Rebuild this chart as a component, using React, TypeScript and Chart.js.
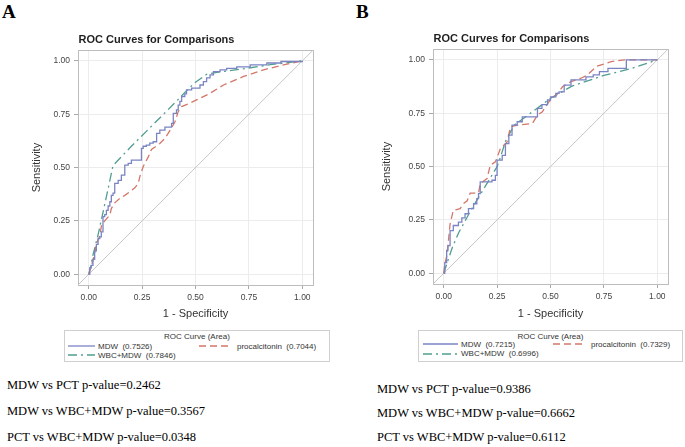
import React, { useEffect, useRef } from 'react';
import { Chart, registerables } from 'chart.js';
Chart.register(...registerables);

// ---------- data ----------
const TICK_VALUES = [0, 0.25, 0.5, 0.75, 1];
const AXIS_MIN = -0.05;
const AXIS_MAX = 1.05;

// Panel A
const A_MDW_X = [0, 0.005, 0.012, 0.02, 0.028, 0.036, 0.044, 0.052, 0.059, 0.067, 0.075, 0.083, 0.091, 0.099, 0.106, 0.114, 0.122, 0.138, 0.153, 0.169, 0.185, 0.2, 0.247, 0.255, 0.27, 0.286, 0.302, 0.318, 0.333, 0.357, 0.388, 0.396, 0.411, 0.419, 0.427, 0.435, 0.45, 0.458, 0.482, 0.505, 0.521, 0.537, 0.552, 0.568, 0.584, 0.615, 0.646, 0.693, 0.756, 0.834, 0.9, 1];
const A_MDW_Y = [0, 0.03, 0.042, 0.07, 0.11, 0.14, 0.167, 0.175, 0.199, 0.27, 0.28, 0.3, 0.32, 0.34, 0.37, 0.38, 0.426, 0.44, 0.465, 0.512, 0.52, 0.535, 0.59, 0.6, 0.605, 0.615, 0.621, 0.66, 0.676, 0.69, 0.707, 0.754, 0.77, 0.793, 0.81, 0.833, 0.845, 0.864, 0.872, 0.872, 0.887, 0.903, 0.92, 0.934, 0.95, 0.958, 0.965, 0.972, 0.981, 0.99, 0.997, 1];
const A_PCT_X = [0, 0.01, 0.02, 0.03, 0.036, 0.052, 0.06, 0.075, 0.083, 0.099, 0.106, 0.122, 0.145, 0.169, 0.19, 0.216, 0.232, 0.24, 0.255, 0.263, 0.279, 0.294, 0.315, 0.333, 0.355, 0.372, 0.39, 0.404, 0.419, 0.435, 0.47, 0.505, 0.568, 0.631, 0.725, 0.818, 0.912, 1];
const A_PCT_Y = [0, 0.03, 0.066, 0.11, 0.144, 0.18, 0.23, 0.25, 0.26, 0.277, 0.308, 0.335, 0.355, 0.37, 0.385, 0.405, 0.426, 0.46, 0.504, 0.52, 0.55, 0.585, 0.6, 0.613, 0.635, 0.66, 0.69, 0.715, 0.762, 0.786, 0.8, 0.817, 0.848, 0.887, 0.927, 0.958, 0.981, 1];
const A_COMBO_X = [0, 0.01, 0.02, 0.03, 0.044, 0.08, 0.114, 0.2, 0.3, 0.4, 0.466, 0.5, 0.552, 0.6, 0.725, 0.85, 1];
const A_COMBO_Y = [0, 0.04, 0.09, 0.13, 0.185, 0.35, 0.51, 0.6, 0.7, 0.8, 0.868, 0.9, 0.937, 0.946, 0.963, 0.982, 1];
const A_LEGEND = ['MDW  (0.7526)', 'procalcitonin  (0.7044)', 'WBC+MDW  (0.7846)'];
const A_PVALUES = ['MDW vs PCT p-value=0.2462', 'MDW vs WBC+MDW p-value=0.3567', 'PCT vs WBC+MDW p-value=0.0348'];

// Panel B
const B_MDW_X = [0, 0.005, 0.014, 0.02, 0.03, 0.045, 0.069, 0.085, 0.1, 0.116, 0.14, 0.155, 0.163, 0.171, 0.226, 0.242, 0.25, 0.274, 0.289, 0.305, 0.32, 0.344, 0.368, 0.431, 0.439, 0.46, 0.486, 0.5, 0.525, 0.54, 0.564, 0.596, 0.658, 0.666, 0.7, 0.729, 0.769, 0.855, 0.855, 1];
const B_MDW_Y = [0, 0.05, 0.107, 0.13, 0.2, 0.224, 0.24, 0.26, 0.279, 0.303, 0.326, 0.35, 0.373, 0.428, 0.436, 0.459, 0.53, 0.553, 0.608, 0.647, 0.694, 0.71, 0.733, 0.733, 0.773, 0.79, 0.812, 0.827, 0.843, 0.85, 0.882, 0.906, 0.906, 0.92, 0.93, 0.945, 0.96, 0.977, 1, 1];
const B_PCT_X = [0, 0.005, 0.014, 0.02, 0.03, 0.045, 0.077, 0.085, 0.092, 0.11, 0.124, 0.163, 0.171, 0.203, 0.218, 0.242, 0.266, 0.297, 0.313, 0.344, 0.415, 0.439, 0.462, 0.493, 0.533, 0.557, 0.596, 0.643, 0.674, 0.714, 0.784, 0.847, 1];
const B_PCT_Y = [0, 0.04, 0.08, 0.13, 0.232, 0.295, 0.303, 0.315, 0.326, 0.34, 0.376, 0.376, 0.42, 0.444, 0.506, 0.522, 0.585, 0.616, 0.686, 0.694, 0.702, 0.741, 0.757, 0.804, 0.843, 0.875, 0.898, 0.914, 0.93, 0.969, 0.992, 1, 1];
const B_COMBO_X = [0, 0.04, 0.07, 0.13, 0.19, 0.25, 0.266, 0.29, 0.33, 0.44, 0.5, 0.6, 0.75, 0.88, 1];
const B_COMBO_Y = [0, 0.12, 0.19, 0.3, 0.4, 0.5, 0.545, 0.62, 0.694, 0.775, 0.82, 0.877, 0.927, 0.96, 1];
const B_LEGEND = ['MDW  (0.7215)', 'procalcitonin  (0.7329)', 'WBC+MDW  (0.6996)'];
const B_PVALUES = ['MDW vs PCT p-value=0.9386', 'MDW vs WBC+MDW p-value=0.6662', 'PCT vs WBC+MDW p-value=0.6112'];

// ---------- styles ----------
const BLUE = '#7A84C3';
const RED = '#D3776A';
const GREEN = '#4F9E8F';
const SANS = "'Liberation Sans', Arial, sans-serif";
const SERIF = "'Liberation Serif', 'Times New Roman', serif";
const DASH_PCT = [7, 4];
const DASH_COMBO = [9, 4, 2, 4];

const framePlugin = {
  id: 'frame',
  beforeDatasetsDraw(chart: any) {
    const { ctx, chartArea: a } = chart;
    ctx.save();
    ctx.strokeStyle = '#BDBDBD';
    ctx.lineWidth = 1;
    ctx.strokeRect(Math.round(a.left) + 0.5, Math.round(a.top) + 0.5, Math.round(a.right - a.left), Math.round(a.bottom - a.top));
    ctx.restore();
  },
};

const pts = (xs: number[], ys: number[]) => xs.map((x, i) => ({ x, y: ys[i] }));

type RocProps = {
  left: number; top: number; width: number; height: number; rightPad: number;
  yTitlePad: number; xTitlePad: number;
  mdwX: number[]; mdwY: number[]; pctX: number[]; pctY: number[]; comboX: number[]; comboY: number[];
};

function RocChart(p: RocProps) {
  const ref = useRef<HTMLCanvasElement>(null);
  useEffect(() => {
    const tickFont = { family: SANS, size: 8.5 };
    const grid = { color: '#ECECEC', tickColor: '#A8A8A8', tickLength: 4, lineWidth: 1 };
    const chart = new Chart(ref.current as HTMLCanvasElement, {
      type: 'scatter',
      data: {
        datasets: [
          { label: 'MDW', data: pts(p.mdwX, p.mdwY), showLine: true, borderColor: BLUE, backgroundColor: BLUE, borderWidth: 1.3, pointRadius: 0, stepped: 'before', order: 0 } as any,
          { label: 'procalcitonin', data: pts(p.pctX, p.pctY), showLine: true, borderColor: RED, backgroundColor: RED, borderWidth: 1.3, borderDash: DASH_PCT, pointRadius: 0, order: 1 },
          { label: 'WBC+MDW', data: pts(p.comboX, p.comboY), showLine: true, borderColor: GREEN, backgroundColor: GREEN, borderWidth: 1.3, borderDash: DASH_COMBO, pointRadius: 0, order: 2 },
          { label: 'reference', data: [{ x: AXIS_MIN, y: AXIS_MIN }, { x: AXIS_MAX, y: AXIS_MAX }], showLine: true, borderColor: '#C6C6C6', borderWidth: 1, pointRadius: 0, order: 3 },
        ],
      },
      options: {
        animation: false,
        responsive: false,
        maintainAspectRatio: false,
        layout: { padding: { left: 0, right: p.rightPad, top: 0, bottom: 0 } },
        plugins: {
          legend: { display: false },
          tooltip: { enabled: false },
          title: {
            display: true,
            text: 'ROC Curves for Comparisons',
            color: '#1E1E1E',
            font: { family: SANS, size: 11, weight: 'bold' },
            padding: { top: 8, bottom: 4 },
          },
        },
        scales: {
          x: {
            type: 'linear',
            min: AXIS_MIN,
            max: AXIS_MAX,
            afterBuildTicks: (s: any) => { s.ticks = TICK_VALUES.map((v) => ({ value: v })); },
            afterFit: (s: any) => { s.height = 40; },
            ticks: { callback: (v: any) => Number(v).toFixed(2), font: tickFont, color: '#444', padding: 4, maxRotation: 0, autoSkip: false },
            grid,
            border: { display: false },
            title: { display: true, text: '1 - Specificity', color: '#333', font: { family: SANS, size: 11 }, padding: { top: 0, bottom: p.xTitlePad } },
          },
          y: {
            type: 'linear',
            min: AXIS_MIN,
            max: AXIS_MAX,
            afterBuildTicks: (s: any) => { s.ticks = TICK_VALUES.map((v) => ({ value: v })); },
            afterFit: (s: any) => { s.width = 78; },
            ticks: { callback: (v: any) => Number(v).toFixed(2), font: tickFont, color: '#444', padding: 4, autoSkip: false },
            grid,
            border: { display: false },
            title: { display: true, text: 'Sensitivity', color: '#333', font: { family: SANS, size: 11 }, padding: { top: p.yTitlePad, bottom: 0 } },
          },
        },
      } as any,
      plugins: [framePlugin],
    });
    return () => chart.destroy();
  }, []);
  return (
    <canvas
      ref={ref}
      width={p.width}
      height={p.height}
      style={{ position: 'absolute', left: p.left, top: p.top, width: p.width, height: p.height }}
    />
  );
}

type LegendProps = {
  left: number; top: number; width: number; height: number; titleTop: number;
  row1Top: number; row2Top: number; sampleLeft: number; sampleW: number; textLeft: number;
  redLeft: number; redW: number; redTextLeft: number; labels: string[];
};

function Sample({ left, top, width, color, dash }: { left: number; top: number; width: number; color: string; dash?: number[] }) {
  return (
    <svg style={{ position: 'absolute', left, top: top - 2, width, height: 4 }} width={width} height={4}>
      <line x1={0} y1={2} x2={width} y2={2} stroke={color} strokeWidth={1.3} strokeDasharray={dash ? dash.join(',') : undefined} />
    </svg>
  );
}

function Legend(l: LegendProps) {
  const txt: React.CSSProperties = { position: 'absolute', fontFamily: SANS, fontSize: 8, lineHeight: '9px', color: '#333', whiteSpace: 'pre' };
  return (
    <div style={{ position: 'absolute', left: l.left, top: l.top, width: l.width, height: l.height, border: '1px solid #CFCFCF', boxSizing: 'border-box' }}>
      <div style={{ ...txt, left: 0, width: '100%', textAlign: 'center', top: l.titleTop }}>ROC Curve (Area)</div>
      <Sample left={l.sampleLeft} top={l.row1Top + 4.5} width={l.sampleW} color={BLUE} />
      <div style={{ ...txt, left: l.textLeft, top: l.row1Top }}>{l.labels[0]}</div>
      <Sample left={l.redLeft} top={l.row1Top + 4.5} width={l.redW} color={RED} dash={DASH_PCT} />
      <div style={{ ...txt, left: l.redTextLeft, top: l.row1Top }}>{l.labels[1]}</div>
      <Sample left={l.sampleLeft} top={l.row2Top + 4.5} width={l.sampleW} color={GREEN} dash={DASH_COMBO} />
      <div style={{ ...txt, left: l.textLeft, top: l.row2Top }}>{l.labels[2]}</div>
    </div>
  );
}

function PValues({ left, tops, lines }: { left: number; tops: number[]; lines: string[] }) {
  return (
    <>
      {lines.map((s, i) => (
        <div key={i} style={{ position: 'absolute', left, top: tops[i], fontFamily: SERIF, fontSize: 12.5, lineHeight: '15px', color: '#000', whiteSpace: 'pre' }}>{s}</div>
      ))}
    </>
  );
}

export default function App() {
  const panelLabel: React.CSSProperties = { position: 'absolute', fontFamily: SERIF, fontWeight: 'bold', fontSize: 19, lineHeight: '19px', color: '#000' };
  return (
    <div style={{ position: 'absolute', left: 0, top: 0, width: 685, height: 447, overflow: 'hidden', background: '#fff' }}>
      <div style={{ ...panelLabel, left: 2, top: 2 }}>A</div>
      <div style={{ ...panelLabel, left: 356, top: 2 }}>B</div>

      <RocChart left={0} top={25} width={340} height={300} rightPad={27} yTitlePad={30} xTitlePad={4.4}
        mdwX={A_MDW_X} mdwY={A_MDW_Y} pctX={A_PCT_X} pctY={A_PCT_Y} comboX={A_COMBO_X} comboY={A_COMBO_Y} />
      <RocChart left={355} top={24} width={330} height={300} rightPad={17} yTitlePad={25} xTitlePad={3.4}
        mdwX={B_MDW_X} mdwY={B_MDW_Y} pctX={B_PCT_X} pctY={B_PCT_Y} comboX={B_COMBO_X} comboY={B_COMBO_Y} />

      <Legend left={64} top={330} width={266} height={32} titleTop={1} row1Top={10.5} row2Top={19.5}
        sampleLeft={3} sampleW={27} textLeft={33} redLeft={134} redW={31} redTextLeft={172} labels={A_LEGEND} />
      <Legend left={418} top={330} width={265} height={32} titleTop={0.5} row1Top={8.5} row2Top={18}
        sampleLeft={4} sampleW={35} textLeft={42} redLeft={134} redW={32} redTextLeft={172} labels={B_LEGEND} />

      <PValues left={7} tops={[378, 404, 430]} lines={A_PVALUES} />
      <PValues left={377} tops={[382, 406, 430]} lines={B_PVALUES} />
    </div>
  );
}
